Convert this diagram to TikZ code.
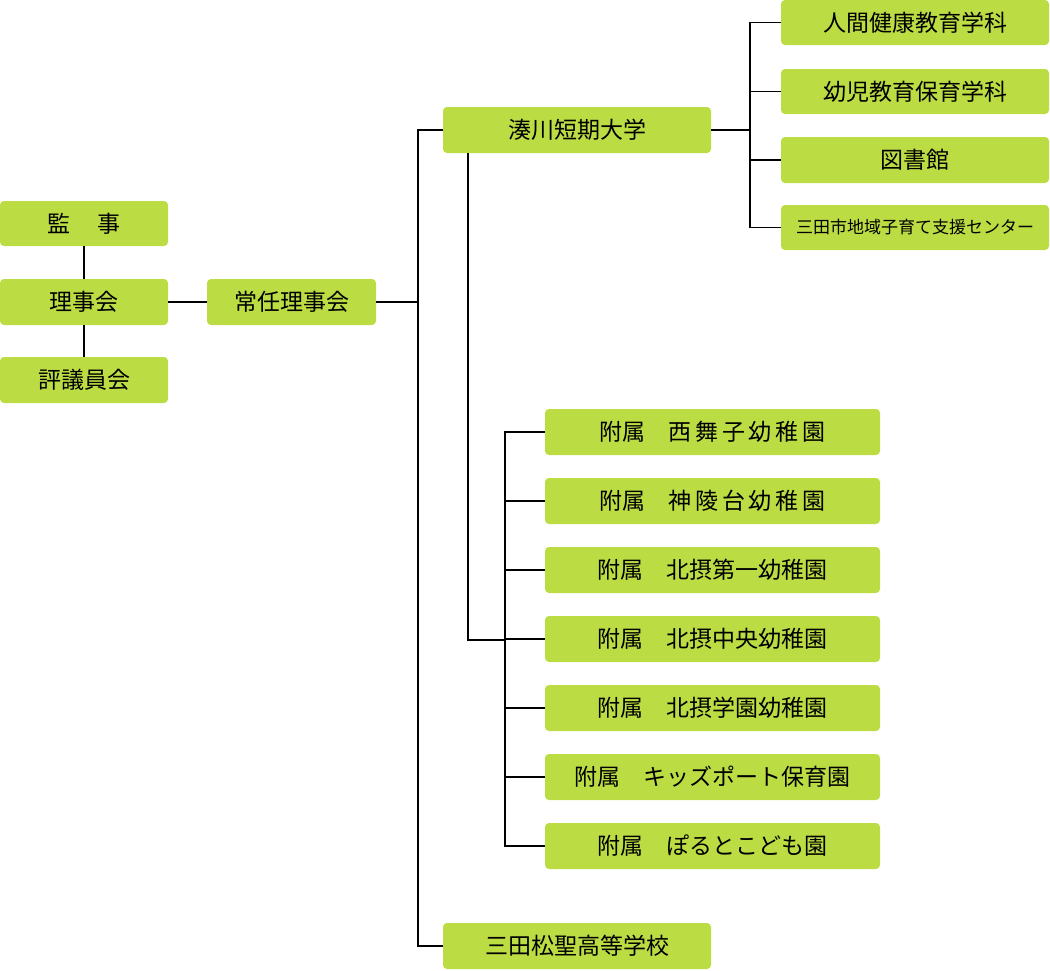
\documentclass[tikz,border=0pt]{standalone}
\usepackage{fontspec}
\setmainfont{Noto Sans CJK JP}
\begin{document}
\begin{tikzpicture}[x=1pt,y=-1pt,
  bx/.style={fill=boxg,rounded corners=4pt,inner sep=0pt,font=\fontsize{23}{26}\selectfont},
  ln/.style={draw=black,line width=1.2pt}]
\definecolor{boxg}{HTML}{BCDC44}
\useasboundingbox (0,0) rectangle (1050,970);
\newcommand\bb[6]{\node[bx,minimum width=#4-#2,minimum height=#5-#3] (#1) at ({(#2+#4)/2},{(#3+#5)/2}) {#6};}
\bb{kan}{0}{201}{168}{246}{監\hspace{1.2em}事}
\bb{rij}{0}{279}{168}{325}{理事会}
\bb{hyo}{0}{357}{168}{403}{評議員会}
\bb{jon}{207}{279}{376}{325}{常任理事会}
\bb{min}{443}{107}{711}{153}{湊川短期大学}
\bb{d1}{781}{0}{1049}{45}{人間健康教育学科}
\bb{d2}{781}{69}{1049}{114}{幼児教育保育学科}
\bb{d3}{781}{137}{1049}{183}{図書館}
\node[bx,minimum width=268,minimum height=45,font=\fontsize{17}{20}\selectfont] (d4) at (915,227.5) {三田市地域子育て支援センター};
\bb{k1}{545}{409}{880}{455}{附属\hspace{1em}西\,舞\,子\,幼\,稚\,園}
\bb{k2}{545}{478}{880}{524}{附属\hspace{1em}神\,陵\,台\,幼\,稚\,園}
\bb{k3}{545}{547}{880}{593}{附属\hspace{1em}北摂第一幼稚園}
\bb{k4}{545}{616}{880}{662}{附属\hspace{1em}北摂中央幼稚園}
\bb{k5}{545}{685}{880}{731}{附属\hspace{1em}北摂学園幼稚園}
\bb{k6}{545}{754}{880}{800}{附属\hspace{1em}キッズポート保育園}
\bb{k7}{545}{823}{880}{869}{附属\hspace{1em}ぽるとこども園}
\bb{hs}{443}{923}{711}{969}{三田松聖高等学校}
\coordinate (a) at (418,302);
\coordinate (b) at (750,130);
\coordinate (c) at (468,640);
\coordinate (e) at (505,640);
\draw[ln] (kan.south) -- (rij.north) (rij.south) -- (hyo.north);
\draw[ln] (rij.east) -- (jon.west);
\draw[ln] (jon.east) -- (a);
\draw[ln] (min.west) -| (a) |- (hs.west);
\draw[ln] (min.east) -- (b);
\foreach \n in {d1,d2,d3,d4} \draw[ln] (b) |- (\n.west);
\draw[ln] (468,153) -- (c) -- (e);
\foreach \n in {k1,k2,k3,k4,k5,k6,k7} \draw[ln] (e) |- (\n.west);
\end{tikzpicture}
\end{document}
